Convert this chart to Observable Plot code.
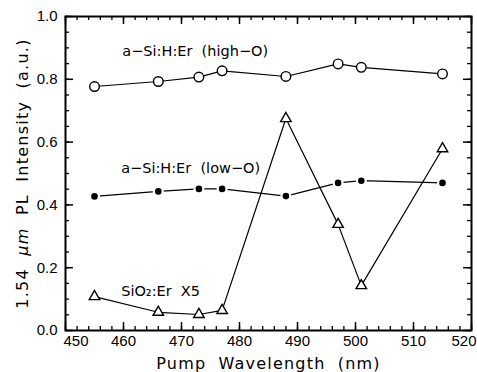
<!DOCTYPE html>
<html>
<head>
<meta charset="utf-8">
<script src="https://cdn.jsdelivr.net/npm/d3@7"></script>
<script src="https://cdn.jsdelivr.net/npm/@observablehq/plot@0.6"></script>
<style>
  html, body { margin: 0; padding: 0; background: #fff; }
  svg { display: block; }
</style>
</head>
<body>
<div id="chart"></div>
<script>
// Pump wavelengths (nm)
const wavelengths = [455, 466, 473, 477, 488, 497, 501, 515];
// a-Si:H:Er (high-O) — open circles
const highO = [0.777, 0.793, 0.807, 0.827, 0.809, 0.849, 0.838, 0.817];
// a-Si:H:Er (low-O) — filled circles
const lowO = [0.427, 0.443, 0.451, 0.451, 0.428, 0.470, 0.477, 0.470];
// SiO2:Er X5 — open triangles
const sio2 = [0.108, 0.058, 0.051, 0.064, 0.675, 0.338, 0.143, 0.579];

const xMajor = [450, 460, 470, 480, 490, 500, 510, 520];
const yMajor = [0.0, 0.2, 0.4, 0.6, 0.8, 1.0];
const xMinor = d3.range(450, 521, 2);
const yMinor = d3.range(0, 1.0001, 0.05);

const seriesNames = ["a\u2212Si:H:Er  (high\u2212O)", "a\u2212Si:H:Er  (low\u2212O)", "SiO\u2082:Er  X5"];
const xLabel = "Pump Wavelength (nm)";
const yLabel = "1.54 \u03BCm PL Intensity (a.u.)";

const hi = wavelengths.map((x, i) => ({x, y: highO[i]}));
const lo = wavelengths.map((x, i) => ({x, y: lowO[i]}));
const si = wavelengths.map((x, i) => ({x, y: sio2[i]}));

const W = 477, H = 372, mt = 16, mb = 42, ml = 65, mr = 6;
const ph = H - mt - mb, pw = W - ml - mr;
const tickFont = "Liberation Sans, Arial, sans-serif";
const textFont = "DejaVu Sans, sans-serif";

const chart = Plot.plot({
  width: W, height: H,
  marginTop: mt, marginBottom: mb, marginLeft: ml, marginRight: mr,
  style: {fontFamily: tickFont, background: "white", color: "black"},
  x: {domain: [450, 520]},
  y: {domain: [0, 1]},
  marks: [
    Plot.axisX(xMajor.slice(1, -1), {tickSize: 0, tickPadding: 5, fontSize: 15, label: null, tickFormat: d => String(d)}),
    Plot.text([xMajor[0]], {x: d => d, frameAnchor: "bottom", text: d => String(d), textAnchor: "start", lineAnchor: "top", dx: -2, dy: 5, fontSize: 15}),
    Plot.text([xMajor[xMajor.length - 1]], {x: d => d, frameAnchor: "bottom", text: d => String(d), textAnchor: "end", lineAnchor: "top", dx: 5, dy: 5, fontSize: 15}),
    Plot.axisY(yMajor, {tickSize: 0, tickPadding: 8, fontSize: 15, label: null, tickFormat: d => d.toFixed(1)}),
    // inward ticks: bottom & top
    Plot.tickX(xMinor, {x: d => d, insetTop: ph - 4, stroke: "black", strokeWidth: 1.3}),
    Plot.tickX(xMinor, {x: d => d, insetBottom: ph - 4, stroke: "black", strokeWidth: 1.3}),
    Plot.tickX(xMajor, {x: d => d, insetTop: ph - 8, stroke: "black", strokeWidth: 1.5}),
    Plot.tickX(xMajor, {x: d => d, insetBottom: ph - 8, stroke: "black", strokeWidth: 1.5}),
    // inward ticks: left & right
    Plot.tickY(yMinor, {y: d => d, insetRight: pw - 4, stroke: "black", strokeWidth: 1.3}),
    Plot.tickY(yMinor, {y: d => d, insetLeft: pw - 4, stroke: "black", strokeWidth: 1.3}),
    Plot.tickY(yMajor, {y: d => d, insetRight: pw - 8, stroke: "black", strokeWidth: 1.5}),
    Plot.tickY(yMajor, {y: d => d, insetLeft: pw - 8, stroke: "black", strokeWidth: 1.5}),
    Plot.frame({stroke: "black", strokeWidth: 2}),
    // lines
    Plot.line(hi, {x: "x", y: "y", stroke: "black", strokeWidth: 1.2}),
    Plot.line(lo, {x: "x", y: "y", stroke: "black", strokeWidth: 1.2}),
    Plot.line(si, {x: "x", y: "y", stroke: "black", strokeWidth: 1.2}),
    // markers
    Plot.dot(hi, {x: "x", y: "y", r: 4.8, fill: "white", stroke: "black", strokeWidth: 1.4}),
    Plot.dot(lo, {x: "x", y: "y", r: 5.5, fill: "white", stroke: "none"}),
    Plot.dot(lo, {x: "x", y: "y", r: 3.3, fill: "black", stroke: "none"}),
    Plot.dot(si, {x: "x", y: "y", r: 3.9, symbol: "triangle", fill: "white", stroke: "black", strokeWidth: 1.4}),
    // series labels
    Plot.text([seriesNames[0]], {x: () => 459.8, y: () => 0.888, text: d => d, textAnchor: "start", fontSize: 14.5, fontFamily: textFont}),
    Plot.text([seriesNames[1]], {x: () => 459.6, y: () => 0.517, text: d => d, textAnchor: "start", fontSize: 14.5, fontFamily: textFont}),
    Plot.text([seriesNames[2]], {x: () => 459.6, y: () => 0.125, text: d => d, textAnchor: "start", fontSize: 14.5, fontFamily: textFont}),
    // axis titles
    Plot.text([xLabel], {frameAnchor: "bottom", dy: 38, text: d => d, fontSize: 16, fontFamily: textFont, textAnchor: "middle", lineAnchor: "bottom"}),
    Plot.text([yLabel], {frameAnchor: "left", dx: -43, rotate: -90, text: d => d, fontSize: 16, fontFamily: textFont, textAnchor: "middle"})
  ]
});
document.getElementById("chart").appendChild(chart);

// spacing and italic mu on axis titles
d3.select(chart).selectAll("text").each(function() {
  const t = this.textContent;
  if (t === xLabel) {
    d3.select(this).attr("letter-spacing", 1.2).attr("word-spacing", 6);
  } else if (t === yLabel) {
    const sel = d3.select(this).attr("letter-spacing", 1.25).attr("word-spacing", 6).attr("text-anchor", "middle");
    sel.text(null);
    sel.append("tspan").text("1.54 ");
    sel.append("tspan").attr("font-style", "italic").text("\u03BCm");
    sel.append("tspan").text(" PL Intensity (a.u.)");
  }
});
</script>
</body>
</html>
